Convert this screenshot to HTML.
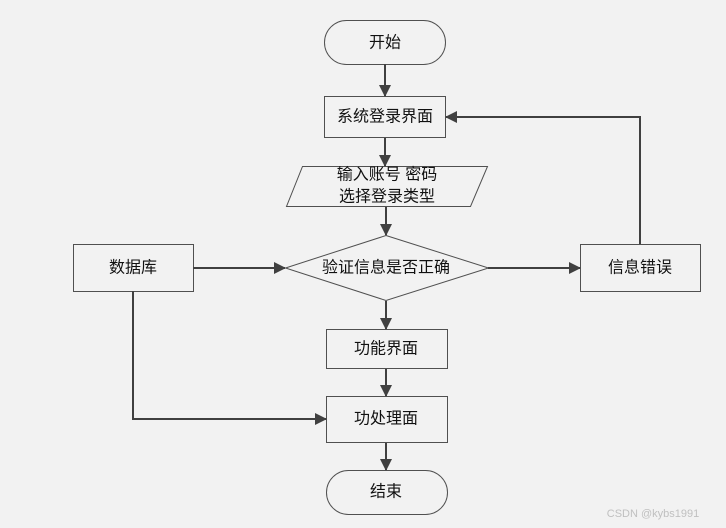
<!DOCTYPE html>
<html><head><meta charset="utf-8"><style>
html,body{margin:0;padding:0;background:#f2f2f2;}
svg{display:block;}
text{font-family:"Liberation Sans","Noto Sans CJK SC",sans-serif;font-size:16px;fill:#111;text-anchor:middle;dominant-baseline:central;}
</style></head><body>
<svg width="726" height="528" viewBox="0 0 726 528">
<defs><marker id="a" markerWidth="12" markerHeight="12" refX="11" refY="6" orient="auto" markerUnits="userSpaceOnUse"><path d="M0,0 L12,6 L0,12 z" fill="#404040"/></marker></defs>
<rect width="726" height="528" fill="#f2f2f2"/>
<g fill="#f2f2f2" stroke="#505050" stroke-width="1">
<rect x="324.5" y="20.5" width="121" height="44" rx="22"/>
<rect x="324.5" y="96.5" width="121" height="41"/>
<polygon points="302.5,166.5 487.5,166.5 470.5,206.5 286.5,206.5"/>
<polygon points="386,235.5 488.5,268 386,300.5 285.5,268"/>
<rect x="73.5" y="244.5" width="120" height="47"/>
<rect x="580.5" y="244.5" width="120" height="47"/>
<rect x="326.5" y="329.5" width="121" height="39"/>
<rect x="326.5" y="396.5" width="121" height="46"/>
<rect x="326.5" y="470.5" width="121" height="44" rx="22"/>
</g>
<g stroke="#404040" stroke-width="2" fill="none" marker-end="url(#a)">
<line x1="385" y1="64" x2="385" y2="96"/>
<line x1="385" y1="138" x2="385" y2="166"/>
<line x1="386" y1="207" x2="386" y2="235"/>
<line x1="193" y1="268" x2="285" y2="268"/>
<line x1="488" y1="268" x2="580" y2="268"/>
<line x1="386" y1="301" x2="386" y2="329"/>
<line x1="386" y1="369" x2="386" y2="396"/>
<line x1="386" y1="443" x2="386" y2="470"/>
<polyline points="640,244 640,117 446,117"/>
<polyline points="133,291 133,419 326,419"/>
</g>
<text x="385" y="43">开始</text>
<text x="385" y="117">系统登录界面</text>
<text x="387" y="175">输入账号 密码</text>
<text x="387" y="197">选择登录类型</text>
<text x="386" y="268">验证信息是否正确</text>
<text x="133" y="268">数据库</text>
<text x="640" y="268">信息错误</text>
<text x="386" y="349">功能界面</text>
<text x="386" y="419">功处理面</text>
<text x="386" y="492">结束</text>
<text x="653" y="514" style="font-size:11px;fill:#c0c0c0;">CSDN @kybs1991</text>
</svg>
</body></html>
